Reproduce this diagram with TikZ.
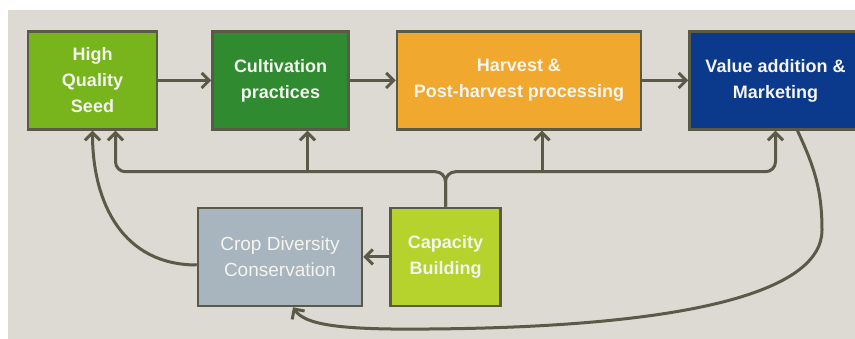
\documentclass[tikz,border=0pt]{standalone}
\usepackage{fontspec}
\setmainfont{Liberation Sans}
\usetikzlibrary{arrows.meta,positioning}
\definecolor{vcbg}{HTML}{DCDAD2}
\definecolor{vcline}{HTML}{5A5A48}
\definecolor{vcseed}{HTML}{78B41C}
\definecolor{vccult}{HTML}{2F8A30}
\definecolor{vcharv}{HTML}{F0A92E}
\definecolor{vcvalue}{HTML}{0B3A8C}
\definecolor{vccrop}{HTML}{A8B4BE}
\definecolor{vccap}{HTML}{B6D22C}
\definecolor{vctext}{HTML}{F4F4F0}

\begin{document}
\begin{tikzpicture}[
  x=1pt, y=1pt,
  box/.style={draw=vcline, line width=2.5pt, align=center, text=vctext, inner sep=0pt, minimum height=98pt, font=\bfseries\fontsize{18}{26}\selectfont},
  line/.style={-{Straight Barb[length=7.5pt,width=15pt]}, line width=3pt, vcline}
]
\useasboundingbox (0,0) rectangle (855,339);
\fill[vcbg] (8,0) rectangle (855,329);

\node[box, fill=vcseed, minimum width=129pt] (seed) at (92.5,258.5) {High\\Quality\\Seed};
\node[box, fill=vccult, minimum width=136pt, right=53pt of seed] (cult) {Cultivation\\practices};
\node[box, fill=vcharv, minimum width=244pt, right=46pt of cult] (harv) {Harvest \&\\Post-harvest processing};
\node[box, fill=vcvalue, minimum width=172pt, right=46pt of harv] (value) {Value addition \&\\Marketing};

\node[box, fill=vccrop, minimum width=164pt, font=\fontsize{19}{26}\selectfont] (crop) at (280,82) {Crop Diversity\\Conservation};
\node[box, fill=vccap, minimum width=110pt, right=26pt of crop] (cap) {Capacity\\Building};

\coordinate[above=35pt of cap.north] (bus);

\draw[line] (seed) -- (cult);
\draw[line] (cult) -- (harv);
\draw[line] (harv) -- (value);
\draw[line] (cap) -- (crop);

\draw[line, rounded corners=10pt] (cap.north) |- ([xshift=23pt]seed.south |- bus) -- ([xshift=23pt]seed.south);
\draw[line, rounded corners=10pt] (cap.north) |- (value.south |- bus) -- (value.south);
\draw[line] ([xshift=27pt]cult.south |- bus) -- ([xshift=27pt]cult.south);
\draw[line] ([xshift=23pt]harv.south |- bus) -- ([xshift=23pt]harv.south);

\draw[line] ([yshift=-8pt]crop.west) to[out=180, in=-90, looseness=1.1] (seed.south);
\draw[line] ([xshift=22pt]value.south) to[out=-65, in=90] (822,109)
  .. controls (822,45) and (680,12) .. (430,10)
  .. controls (340,9) and (305,14) .. ([xshift=13pt]crop.south);
\end{tikzpicture}
\end{document}
